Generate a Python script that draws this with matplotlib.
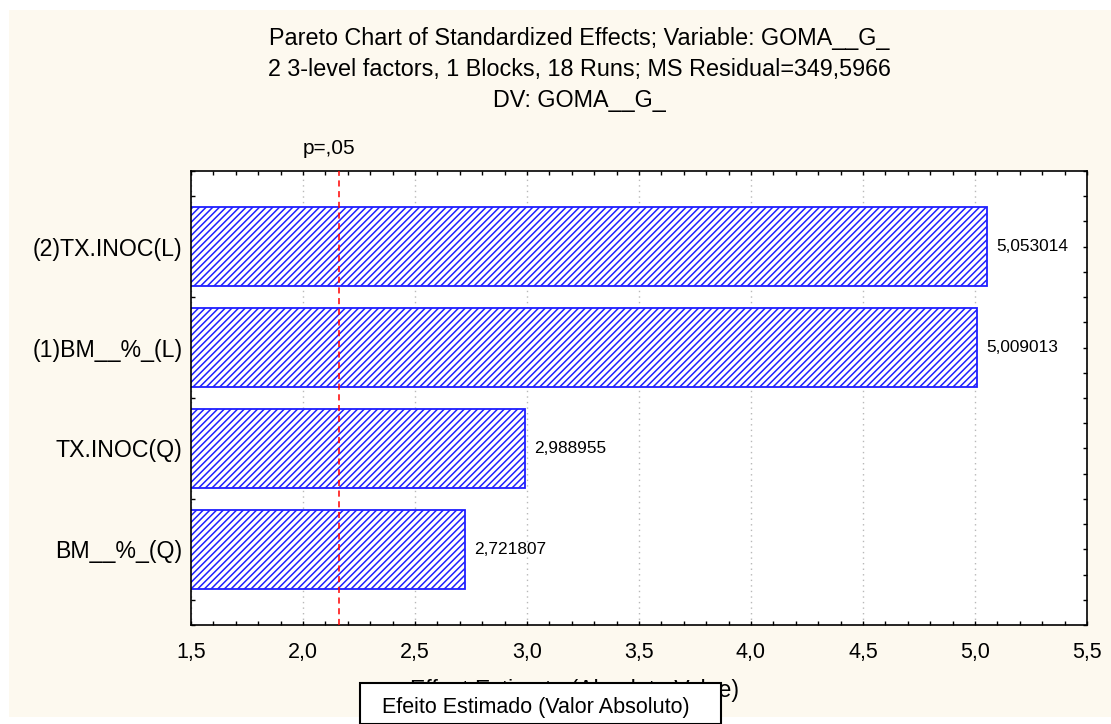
import matplotlib
matplotlib.use("Agg")
import matplotlib.pyplot as plt
from matplotlib.patches import Rectangle
from matplotlib.ticker import MultipleLocator, FuncFormatter

plt.rcParams["font.family"] = ["Liberation Sans", "DejaVu Sans"]
plt.rcParams["hatch.linewidth"] = 1.1

# effects, top to bottom
effects = ["(2)TX.INOC(L)", "(1)BM__%_(L)", "TX.INOC(Q)", "BM__%_(Q)"]
t_values = [5.053014, 5.009013, 2.988955, 2.721807]
value_labels = ["5,053014", "5,009013", "2,988955", "2,721807"]
p_crit = 2.160369   # t(0.975, 13)

title_lines = ["Pareto Chart of Standardized Effects; Variable: GOMA__G_",
               "2 3-level factors, 1 Blocks, 18 Runs; MS Residual=349,5966",
               "DV: GOMA__G_"]

BLUE = "#1f1fff"
CREAM = "#fdf9ef"
W, H = 1111, 724

fig = plt.figure(figsize=(W / 100, H / 100), dpi=100)
fig.patch.set_facecolor("white")
fig.patches.append(Rectangle((9 / W, 1 - 717 / H), 1102 / W, 707 / H,
                             transform=fig.transFigure, facecolor=CREAM,
                             edgecolor="none", zorder=-10))

ax = fig.add_axes([191 / W, 1 - 625 / H, (1087 - 191) / W, (625 - 171) / H])
ax.set_facecolor("white")

ypos = list(range(len(effects)))[::-1]
ax.barh(ypos, t_values, height=0.78, left=0, color="white", edgecolor=BLUE,
        hatch="/////", linewidth=1.3, zorder=2)
for y, v, lab in zip(ypos, t_values, value_labels):
    ax.annotate(lab, (v, y), xytext=(7, 0), textcoords="offset points",
                ha="left", va="center", fontsize=12.4, color="black")

ax.axvline(p_crit, color="red", linestyle=(0, (4, 3)), linewidth=1.1, zorder=3)
ax.annotate("p=,05", (p_crit, 1.0), xycoords=("data", "axes fraction"),
            xytext=(-26, 16.5), textcoords="offset points",
            ha="left", va="center", fontsize=15)

ax.set_xlim(1.5, 5.5)
ax.set_ylim(-0.75, 3.75)
ax.xaxis.set_major_locator(MultipleLocator(0.5))
ax.xaxis.set_minor_locator(MultipleLocator(0.1))
ax.xaxis.set_major_formatter(FuncFormatter(lambda v, p: f"{v:.1f}".replace(".", ",")))
ax.set_yticks(ypos)
ax.set_yticklabels(effects)
ax.yaxis.set_minor_locator(MultipleLocator(0.25))
ax.grid(axis="x", which="major", linestyle=(0, (1, 3)), color="#b8b8b8", linewidth=1.0, zorder=0)
ax.set_axisbelow(True)

ax.tick_params(which="both", direction="in", top=True, right=True, length=3,
               width=1, color="black")
ax.tick_params(axis="x", labelsize=15.5, pad=12)
ax.tick_params(axis="y", labelsize=16.7, pad=6)
for s in ax.spines.values():
    s.set_linewidth(1.2)

for i, line in enumerate(title_lines):
    fig.text(579 / W, 1 - (39 + 30.5 * i) / H, line, ha="center", va="center", fontsize=16.8)

fig.text(575 / W, 1 - 691 / H, "Effect Estimate (Absolute Value)",
         ha="center", va="center", fontsize=16.6)

# overlay box with the translated axis title
fig.patches.append(Rectangle((360 / W, 0), (721 - 360) / W, (H - 683) / H,
                             transform=fig.transFigure, facecolor="white",
                             edgecolor="black", linewidth=1.5, zorder=5))
fig.text(382 / W, 1 - 707 / H, "Efeito Estimado (Valor Absoluto)",
         ha="left", va="center", fontsize=15.5, zorder=6)

fig.savefig("out.png", dpi=100)
